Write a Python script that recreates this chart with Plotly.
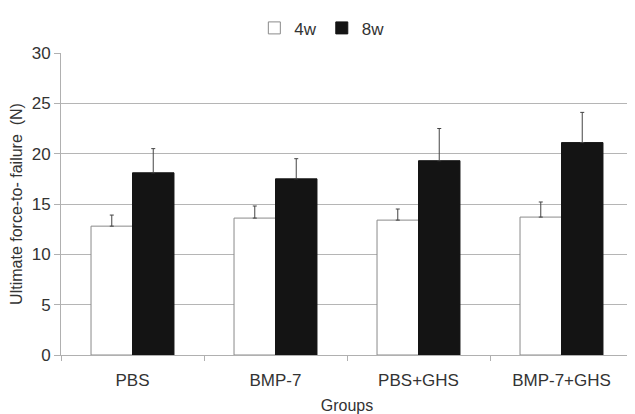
import plotly.graph_objects as go

groups = ["PBS", "BMP-7", "PBS+GHS", "BMP-7+GHS"]
w4 = [12.8, 13.6, 13.4, 13.7]
w4_err = [1.1, 1.2, 1.1, 1.5]
w8 = [18.1, 17.5, 19.3, 21.1]
w8_err = [2.4, 2.0, 3.2, 3.0]
y_ticks = [0, 5, 10, 15, 20, 25, 30]

fig = go.Figure()
fig.add_trace(go.Bar(
    name="4w", x=groups, y=w4,
    marker=dict(color="white", line=dict(color="#8a8a8a", width=1)),
    error_y=dict(type="data", array=w4_err, arrayminus=[0]*4, symmetric=False,
                 color="#444", thickness=1, width=2),
))
fig.add_trace(go.Bar(
    name="8w", x=groups, y=w8,
    marker=dict(color="#141414", line=dict(color="#141414", width=1)),
    error_y=dict(type="data", array=w8_err, arrayminus=[0]*4, symmetric=False,
                 color="#444", thickness=1, width=2),
))

font = "Liberation Sans, Arial, sans-serif"
fig.update_layout(
    width=627, height=406,
    margin=dict(l=53, r=2, t=37, b=59),
    paper_bgcolor="white", plot_bgcolor="white",
    barmode="group", bargap=0.42, bargroupgap=0,
    font=dict(family=font, size=16, color="#333"),
    legend=dict(orientation="h", x=0.456, xanchor="center", y=1.022, yanchor="bottom",
                yref="paper", font=dict(size=17, color="#333"),
                itemwidth=30, traceorder="normal"),
    xaxis=dict(
        showgrid=False, showline=True, linecolor="#b0b0b0", linewidth=1,
        ticks="outside", tickson="boundaries", ticklen=5, tickcolor="#b0b0b0",
        ticklabelstandoff=10,
        title=dict(text="Groups", font=dict(size=16), standoff=10),
        tickfont=dict(size=17),
    ),
    yaxis=dict(
        range=[0, 30], tickvals=y_ticks, showgrid=True, gridcolor="#b5b5b5",
        gridwidth=1, showline=True, linecolor="#b0b0b0", linewidth=1,
        ticks="outside", ticklen=6, tickcolor="#b0b0b0", zeroline=False,
        title=dict(text="Ultimate force-to- failure  (N)", font=dict(size=16), standoff=6),
        tickfont=dict(size=17),
    ),
)
fig.write_html("out.html")
